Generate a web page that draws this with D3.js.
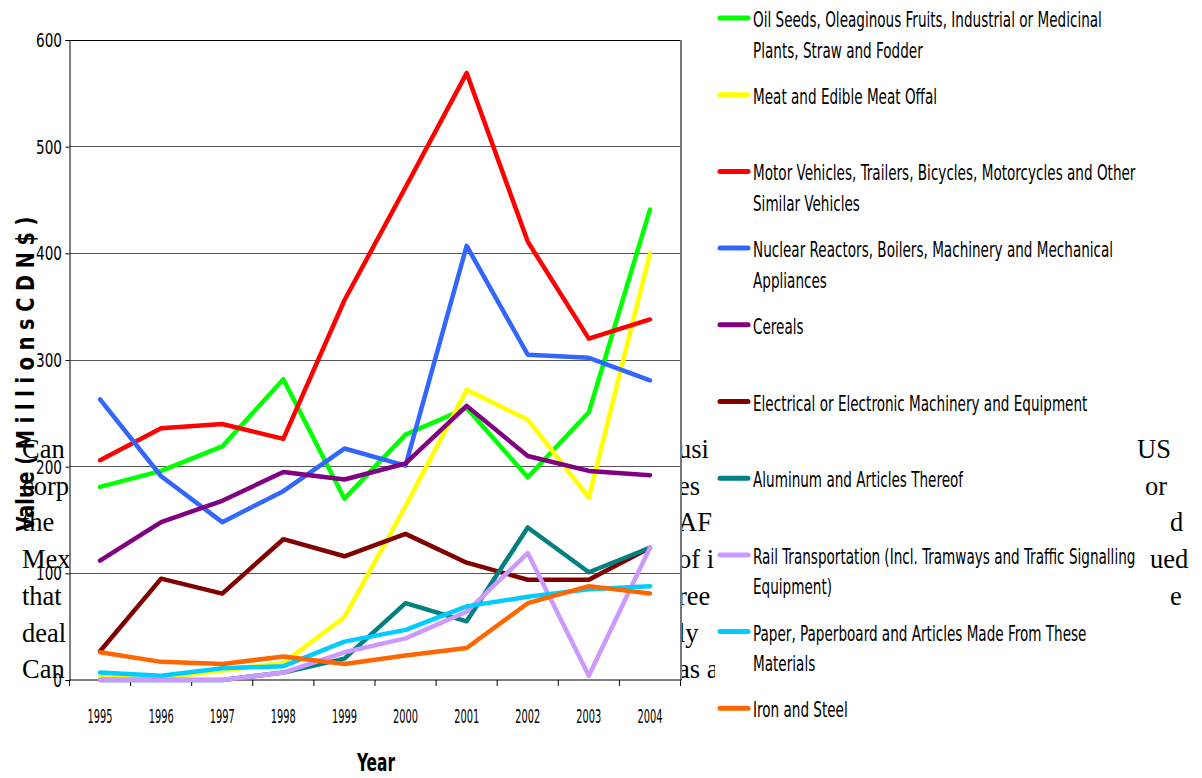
<!DOCTYPE html>
<html><head><meta charset="utf-8">
<script src="https://cdn.jsdelivr.net/npm/d3@7"></script>
<style>html,body{margin:0;padding:0;background:#fff;} svg{display:block;}</style>
</head><body>
<script>
// ---------- data ----------
const years = ["1995","1996","1997","1998","1999","2000","2001","2002","2003","2004"];
const yTicks = [0,100,200,300,400,500,600];

const oilSeeds      = [181,196,219,282,170,230,255,190,251,441];
const meat          = [3,2,9,16,59,163,272,244,171,400];
const motorVehicles = [206,236,240,226,356,462,569,411,320,338];
const nuclear       = [263,191,148,177,217,201,407,305,302,281];
const cereals       = [112,148,168,195,188,203,257,210,196,192];
const electrical    = [27,95,81,132,116,137,110,94,94,124];
const aluminum      = [0,0,0,7,20,72,55,143,101,124];
const rail          = [0,0,0,7,26,39,64,119,4,124];
const paper         = [7,4,11,13,36,47,69,78,85,88];
const ironSteel     = [26,17,15,22,15,23,30,72,88,81];

const seriesValues = [oilSeeds, meat, motorVehicles, nuclear, cereals, electrical, aluminum, rail, paper, ironSteel];
const seriesColors = ["#00ff00","#ffff00","#ff0000","#3366ff","#800080","#800000","#008080","#cc99ff","#00ccff","#ff6600"];
const legendLines = [
  ["Oil Seeds, Oleaginous Fruits, Industrial or Medicinal","Plants, Straw and Fodder"],
  ["Meat and Edible Meat Offal"],
  ["Motor Vehicles, Trailers, Bicycles, Motorcycles and Other","Similar Vehicles"],
  ["Nuclear Reactors, Boilers, Machinery and Mechanical","Appliances"],
  ["Cereals"],
  ["Electrical or Electronic Machinery and Equipment"],
  ["Aluminum and Articles Thereof"],
  ["Rail Transportation (Incl. Tramways and Traffic Signalling","Equipment)"],
  ["Paper, Paperboard and Articles Made From These","Materials"],
  ["Iron and Steel"]
];
const xTitle = "Year";
const yTitle = "Value ( M i l l i o n s  C D N $ )";

// fragments of the document text showing around the chart
const docLeft  = ["Can","corp","the","Mex","that","deal","Can"];
const docMid   = ["usi","es","AF","of i","ree","ly","as a"];
const docRight = ["US","or","d","ued","e"];
const docRightX = [1137,1145,1170,1150,1170];

// ---------- layout ----------
const W = 1202, H = 778;
const narrow = "'Liberation Sans Narrow','DejaVu Sans Condensed','Arial Narrow',sans-serif";
const serif = "'Liberation Serif','Times New Roman',serif";
const plot = {left:69.5, right:680.5, top:40, bottom:680};

const svg = d3.select("body").append("svg").attr("width", W).attr("height", H);

const x = d3.scalePoint().domain(years).range([plot.left, plot.right]).padding(0.5);
const y = d3.scaleLinear().domain([0, 600]).range([plot.bottom, plot.top]);

// background document text
const docBase = 458, docStep = 36.7;
const doc = svg.append("g").attr("font-family", serif).attr("font-size", 26.5).attr("fill", "#000");
docLeft.forEach((t,i) => doc.append("text").attr("x", 22).attr("y", docBase + i*docStep).text(t));
docMid.forEach((t,i) => doc.append("text").attr("x", 678).attr("y", docBase + i*docStep).text(t));
docRight.forEach((t,i) => doc.append("text").attr("x", docRightX[i]).attr("y", docBase + i*docStep).text(t));

// white plot area and legend area
svg.append("rect").attr("x", plot.left).attr("y", plot.top)
  .attr("width", plot.right - plot.left).attr("height", plot.bottom - plot.top).attr("fill", "#fff");
svg.append("rect").attr("x", 715).attr("y", 0).attr("width", 421).attr("height", H).attr("fill", "#fff");

// gridlines
svg.append("g").selectAll("line").data(yTicks.filter(d => d > 0)).join("line")
  .attr("x1", plot.left).attr("x2", plot.right)
  .attr("y1", d => y(d)).attr("y2", d => y(d))
  .attr("stroke", d => d === 600 ? "#000" : "#555").attr("stroke-width", 1).attr("shape-rendering","crispEdges");

// right border
svg.append("line").attr("x1", plot.right + 0.5).attr("x2", plot.right + 0.5)
  .attr("y1", plot.top).attr("y2", plot.bottom).attr("stroke", "#777").attr("stroke-width", 2);

// y axis
const yAxis = svg.append("g").attr("transform", `translate(${plot.left},0)`)
  .call(d3.axisLeft(y).tickValues(yTicks).tickSize(4).tickFormat(""));
yAxis.select(".domain").attr("stroke", "#000");
yAxis.selectAll(".tick line").attr("stroke", "#000");

// x axis (ticks at category boundaries)
const xAxisG = svg.append("g").attr("transform", `translate(0,${plot.bottom})`);
xAxisG.append("line").attr("x1", plot.left).attr("x2", plot.right + 1).attr("y1", 0).attr("y2", 0).attr("stroke", "#000");
const bw = x.step();
const bounds = years.map((d,i) => x(d) - bw/2).concat([x(years[years.length-1]) + bw/2]);
xAxisG.selectAll("line.tk").data(bounds).join("line").attr("class","tk")
  .attr("x1", d => d).attr("x2", d => d).attr("y1", 0).attr("y2", 6).attr("stroke", "#000");

// helper for condensed text
function fitScale(str, size, weight, target) {
  const t = svg.append("text").attr("font-family", narrow).attr("font-size", size)
    .attr("font-weight", weight).text(str);
  const w = t.node().getComputedTextLength();
  t.remove();
  return target / w;
}

// y tick labels
const syT = fitScale("600", 19, "normal", 26);
svg.append("g").selectAll("g").data(yTicks).join("g")
  .attr("transform", d => `translate(62,${y(d) + 7}) scale(${syT},1)`)
  .append("text").attr("font-family", narrow).attr("font-size", 19).attr("text-anchor", "end")
  .attr("fill", "#000").text(d => d);

// x tick labels
const sxT = fitScale("1995", 19, "normal", 25);
svg.append("g").selectAll("g").data(years).join("g")
  .attr("transform", d => `translate(${x(d)},723) scale(${sxT},1)`)
  .append("text").attr("font-family", narrow).attr("font-size", 19).attr("text-anchor", "middle")
  .attr("fill", "#000").text(d => d);

// axis titles
const sYear = fitScale(xTitle, 24, "bold", 38);
svg.append("g").attr("transform", `translate(376,771) scale(${sYear},1)`)
  .append("text").attr("font-family", narrow).attr("font-size", 24).attr("font-weight", "bold")
  .attr("text-anchor", "middle").text(xTitle);

const sVal = fitScale(yTitle, 25, "bold", 315);
svg.append("g").attr("transform", `translate(34,374) rotate(-90) scale(${sVal},1)`)
  .append("text").attr("font-family", narrow).attr("font-size", 25).attr("font-weight", "bold")
  .attr("text-anchor", "middle").text(yTitle);

// lines
const line = d3.line().x((d,i) => x(years[i])).y(d => y(d));
svg.append("g").selectAll("path").data(seriesValues).join("path")
  .attr("d", d => line(d)).attr("fill", "none")
  .attr("stroke", (d,i) => seriesColors[i]).attr("stroke-width", 4.5)
  .attr("stroke-linejoin", "round").attr("stroke-linecap", "round");

// legend
const sLeg = fitScale(legendLines[0][0], 22, "normal", 349);
const legStep = 76.7, legTop = 18;
const leg = svg.append("g").selectAll("g").data(legendLines).join("g")
  .attr("transform", (d,i) => `translate(0,${legTop + i*legStep})`);
leg.append("line").attr("x1", 720).attr("x2", 748).attr("y1", 0).attr("y2", 0)
  .attr("stroke", (d,i) => seriesColors[i]).attr("stroke-width", 5).attr("stroke-linecap", "round");
leg.each(function(lines) {
  const g = d3.select(this);
  lines.forEach((t, j) => {
    g.append("g").attr("transform", `translate(753,${9 + j*30.5}) scale(${sLeg},1)`)
      .append("text").attr("font-family", narrow).attr("font-size", 22).attr("fill", "#000").text(t);
  });
});
</script>
</body></html>
